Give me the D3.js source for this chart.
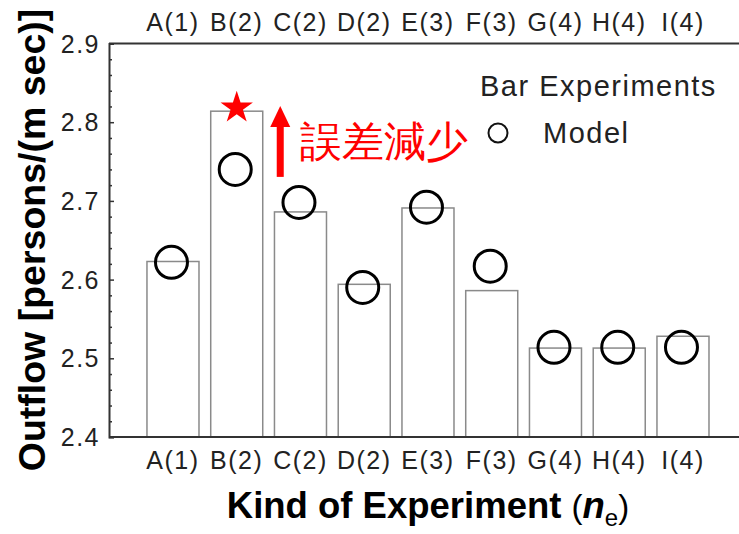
<!DOCTYPE html>
<html>
<head>
<meta charset="utf-8">
<script src="https://cdn.jsdelivr.net/npm/d3@7"></script>
<style>
  body { margin: 0; background: #fff; }
  svg { display: block; }
  text { font-family: "Liberation Sans", Arial, sans-serif; }
</style>
</head>
<body>
<div id="chart"></div>
<script>
// categories and values
const categories = ["A(1)", "B(2)", "C(2)", "D(2)", "E(3)", "F(3)", "G(4)", "H(4)", "I(4)"];
const barValues = [2.623, 2.814, 2.686, 2.594, 2.691, 2.586, 2.513, 2.513, 2.528];
const modelValues = [2.622, 2.740, 2.698, 2.590, 2.692, 2.617, 2.514, 2.514, 2.514];
const yTicks = [2.4, 2.5, 2.6, 2.7, 2.8, 2.9];
const yDomain = [2.4, 2.9];

const W = 739, H = 534;
const plot = {left: 109, top: 43.5, bottom: 437, right: 739};

const svg = d3.select("#chart").append("svg")
    .attr("width", W)
    .attr("height", H);

const x = d3.scaleBand()
    .domain(categories)
    .range([141.1, 141.1 + 9 * 63.75])
    .paddingInner(0.184)
    .paddingOuter(0.092);

const y = d3.scaleLinear()
    .domain(yDomain)
    .range([plot.bottom, plot.top]);

// bars
svg.append("g").selectAll("rect")
    .data(categories)
    .join("rect")
    .attr("x", d => x(d))
    .attr("y", (d, i) => y(barValues[i]))
    .attr("width", x.bandwidth())
    .attr("height", (d, i) => y(yDomain[0]) - y(barValues[i]))
    .attr("fill", "#fff")
    .attr("stroke", "#8a8a8a")
    .attr("stroke-width", 1.5);

// frame lines (top + bottom)
svg.append("line").attr("x1", plot.left).attr("x2", plot.right).attr("y1", plot.top).attr("y2", plot.top)
    .attr("stroke", "#333").attr("stroke-width", 2);
svg.append("line").attr("x1", plot.left).attr("x2", plot.right).attr("y1", plot.bottom).attr("y2", plot.bottom)
    .attr("stroke", "#333").attr("stroke-width", 2);

// y axis with inward ticks
const yAxis = d3.axisRight(y)
    .tickValues(yTicks)
    .tickSize(5)
    .tickFormat("");
const yMinor = d3.axisRight(y)
    .tickValues(d3.range(2.42, 2.9, 0.02).filter(v => Math.round(v * 100) % 10 !== 0))
    .tickSize(3)
    .tickFormat("");

const ga = svg.append("g").attr("transform", `translate(${plot.left},0)`).call(yAxis);
svg.append("g").attr("transform", `translate(${plot.left},0)`).call(yMinor)
    .call(g => g.select(".domain").remove());
ga.select(".domain").attr("stroke", "#333").attr("stroke-width", 2);
svg.selectAll(".tick line").attr("stroke", "#333").attr("stroke-width", 1.5);

svg.append("g").selectAll("text")
    .data(yTicks)
    .join("text")
    .attr("x", 100)
    .attr("y", d => y(d) + 9)
    .attr("text-anchor", "end")
    .attr("font-size", 25)
    .attr("letter-spacing", 1.5)
    .attr("fill", "#222")
    .text(d => d.toFixed(1));

// category labels, top and bottom
[31, 469].forEach(yy => {
    svg.append("g").selectAll("text")
        .data(categories)
        .join("text")
        .attr("x", d => x(d) + x.bandwidth() / 2)
        .attr("y", yy)
        .attr("text-anchor", "middle")
        .attr("font-size", 25)
        .attr("letter-spacing", 1.5)
        .attr("fill", "#222")
        .text(d => d);
});

// model circles
svg.append("g").selectAll("circle")
    .data(categories)
    .join("circle")
    .attr("cx", d => x(d) + x.bandwidth() / 2 - 1.5)
    .attr("cy", (d, i) => y(modelValues[i]))
    .attr("r", 16)
    .attr("fill", "none")
    .attr("stroke", "#000")
    .attr("stroke-width", 3);

// star over B (5-point star, outer radius 17)
const bx = x("B(2)") + x.bandwidth() / 2;
const starPts = d3.range(10).map(k => [k * Math.PI / 5, k % 2 ? 17 * 0.382 : 17]);
svg.append("path")
    .attr("d", d3.lineRadial().curve(d3.curveLinearClosed)(starPts))
    .attr("transform", `translate(${bx},${y(barValues[1]) - 3.5})`)
    .attr("fill", "#f00");

// red arrow
const ax = x("B(2)") + x.bandwidth() + 17.5;
const ay0 = y(2.7305), ay1 = y(2.8205);
svg.append("rect")
    .attr("x", ax - 3.5).attr("y", ay1 + 18)
    .attr("width", 7).attr("height", ay0 - ay1 - 18)
    .attr("fill", "#f00");
svg.append("path")
    .attr("d", `M${ax},${ay1} L${ax + 10},${ay1 + 21} L${ax - 10},${ay1 + 21} Z`)
    .attr("fill", "#f00");
svg.append("text")
    .attr("x", ax + 20)
    .attr("y", 156)
    .attr("font-family", "'Noto Sans CJK JP', sans-serif")
    .attr("font-size", 41.5)
    .attr("fill", "#f00")
    .text("誤差減少");

// legend
svg.append("text")
    .attr("x", 480).attr("y", 96)
    .attr("font-size", 29).attr("letter-spacing", 1.5).attr("fill", "#222")
    .text("Bar Experiments");
svg.append("circle")
    .attr("cx", 498).attr("cy", 133).attr("r", 9.5)
    .attr("fill", "none").attr("stroke", "#111").attr("stroke-width", 2);
svg.append("text")
    .attr("x", 543).attr("y", 143)
    .attr("font-size", 29).attr("letter-spacing", 1.5).attr("fill", "#222")
    .text("Model");

// axis titles
svg.append("text")
    .attr("transform", "translate(45,240) rotate(-90)")
    .attr("text-anchor", "middle")
    .attr("font-size", 37.5)
    .attr("font-weight", "bold")
    .attr("fill", "#000")
    .text("Outflow [persons/(m sec)]");

const xt = svg.append("text")
    .attr("x", 428).attr("y", 518)
    .attr("text-anchor", "middle")
    .attr("font-size", 36.5)
    .attr("fill", "#000");
xt.append("tspan").attr("font-weight", "bold").text("Kind of Experiment ");
xt.append("tspan").attr("font-size", 33).text("(");
xt.append("tspan").attr("font-weight", "bold").attr("font-style", "italic").text("n");
xt.append("tspan").attr("font-size", 24).attr("dy", 8).text("e");
xt.append("tspan").attr("font-size", 33).attr("dy", -8).text(")");
</script>
</body>
</html>
